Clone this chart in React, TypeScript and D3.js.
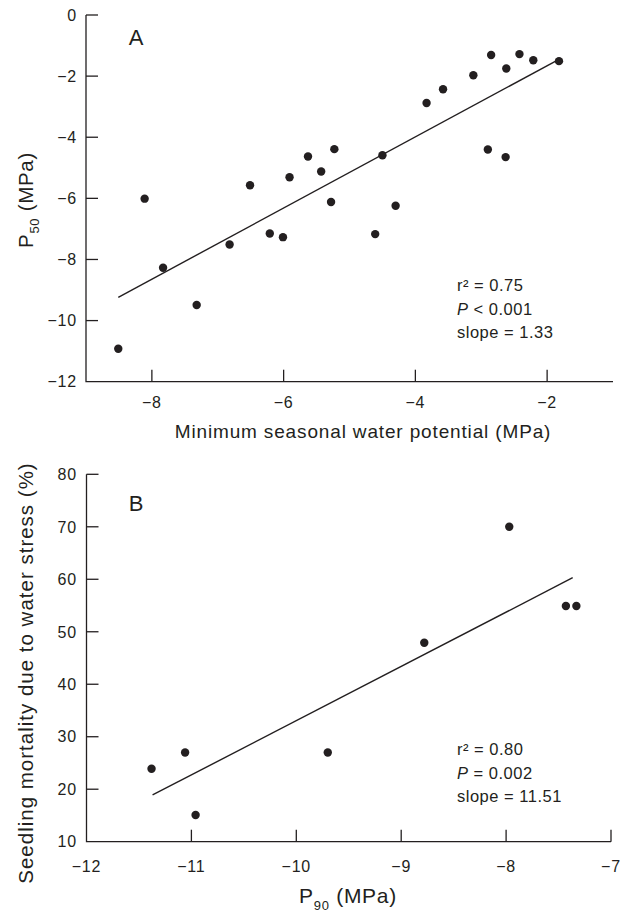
import React from "react";
import * as d3 from "d3";

// Panel A data
const aX = [-8.51, -8.11, -7.83, -7.32, -6.82, -6.51, -6.21, -6.01, -5.91, -5.63, -5.43, -5.28, -5.23, -4.61, -4.5, -4.3, -3.83, -3.58, -3.12, -2.9, -2.85, -2.63, -2.62, -2.42, -2.21, -1.82];
const aY = [-10.92, -6.01, -8.27, -9.49, -7.51, -5.57, -7.15, -7.27, -5.31, -4.63, -5.12, -6.12, -4.39, -7.17, -4.59, -6.24, -2.88, -2.43, -1.97, -4.4, -1.31, -4.65, -1.75, -1.28, -1.48, -1.51];
const aLineX = [-8.51, -1.82];
const aLineY = [-9.24, -1.45];
const aXTicks = [-8, -6, -4, -2];
const aYTicks = [0, -2, -4, -6, -8, -10, -12];
const aStats = ["r² = 0.75", "P< 0.001", "slope = 1.33"];

// Panel B data
const bX = [-11.38, -11.06, -10.96, -9.7, -8.78, -7.97, -7.43, -7.33];
const bY = [23.9, 27.0, 15.1, 27.0, 47.9, 70.0, 54.9, 54.9];
const bLineX = [-11.37, -7.365];
const bLineY = [18.9, 60.3];
const bXTicks = [-12, -11, -10, -9, -8, -7];
const bYTicks = [10, 20, 30, 40, 50, 60, 70, 80];
const bStats = ["r² = 0.80", "P= 0.002", "slope = 11.51"];

const INK = "#231f20";
const FONT = "'Liberation Sans', Arial, Helvetica, sans-serif";
const fmt = (v: number) => (v < 0 ? "\u2212" + Math.abs(v) : String(v));

function Stats({ x, y, lines }: { x: number; y: number; lines: string[] }) {
  return (
    <g fontSize={16.5} fill={INK} letterSpacing={0.5}>
      {lines.map((l, i) => {
        const yy = y + i * 23.5;
        if (l.startsWith("P")) {
          return (
            <text key={i} x={x} y={yy}>
              <tspan fontStyle="italic">P</tspan>
              <tspan>{l.slice(1).replace("=", "\u00a0=").replace("<", "\u00a0<")}</tspan>
            </text>
          );
        }
        return (
          <text key={i} x={x} y={yy}>
            {l.replace(" = ", "\u00a0=\u00a0")}
          </text>
        );
      })}
    </g>
  );
}

export default function App() {
  // Panel A scales
  const xA = d3.scaleLinear().domain([-9, -1]).range([86, 613]);
  const yA = d3.scaleLinear().domain([-12, 0]).range([381.7, 15]);
  // Panel B scales
  const xB = d3.scaleLinear().domain([-12, -7]).range([86.5, 611]);
  const yB = d3.scaleLinear().domain([10, 80]).range([841.7, 474.3]);

  const lineA = d3.line<number>().x((_, i) => xA(aLineX[i])).y((d) => yA(d));
  const lineB = d3.line<number>().x((_, i) => xB(bLineX[i])).y((d) => yB(d));

  const tick = 12;

  return (
    <svg
      width={624}
      height={912}
      style={{ position: "absolute", left: 0, top: 0, background: "#fff" }}
      fontFamily={FONT}
    >
      {/* ---------- Panel A ---------- */}
      <g>
        <path
          d={`M${xA(-9)},${yA(0)}V${yA(-12)}H${xA(-1)}`}
          fill="none"
          stroke={INK}
          strokeWidth={1.3}
        />
        {aYTicks.map((t) => (
          <g key={"ay" + t}>
            {t !== -12 && (
              <line x1={xA(-9)} x2={xA(-9) + tick} y1={yA(t)} y2={yA(t)} stroke={INK} strokeWidth={1.3} />
            )}
            <text x={77} y={yA(t)} dy="0.36em" textAnchor="end" fontSize={16} fill={INK} letterSpacing={0.8}>
              {fmt(t)}
            </text>
          </g>
        ))}
        {aXTicks.map((t) => (
          <g key={"ax" + t}>
            <line x1={xA(t)} x2={xA(t)} y1={yA(-12)} y2={yA(-12) - tick} stroke={INK} strokeWidth={1.3} />
            <text x={xA(t)} y={408} textAnchor="middle" fontSize={16} fill={INK} letterSpacing={0.8}>
              {fmt(t)}
            </text>
          </g>
        ))}
        <text x={136} y={45} textAnchor="middle" fontSize={22} fill={INK}>
          A
        </text>
        <path d={lineA(aLineY) || ""} fill="none" stroke={INK} strokeWidth={1.4} />
        {aX.map((v, i) => (
          <circle key={"pa" + i} cx={xA(v)} cy={yA(aY[i])} r={4.2} fill={INK} />
        ))}
        <Stats x={457} y={291} lines={aStats} />
        <text x={363} y={438} textAnchor="middle" fontSize={19} fill={INK} letterSpacing={0.85}>
          Minimum seasonal water potential (MPa)
        </text>
        <text transform={`translate(33,200) rotate(-90)`} textAnchor="middle" fontSize={20.5} fill={INK} letterSpacing={0.7}>
          P
          <tspan fontSize={13} dy={6}>50</tspan>
          <tspan dy={-6}> (MPa)</tspan>
        </text>
      </g>

      {/* ---------- Panel B ---------- */}
      <g>
        <path
          d={`M${xB(-12)},${yB(80)}V${yB(10)}H${xB(-7)}`}
          fill="none"
          stroke={INK}
          strokeWidth={1.3}
        />
        {bYTicks.map((t) => (
          <g key={"by" + t}>
            {t !== 10 && (
              <line x1={xB(-12)} x2={xB(-12) + tick} y1={yB(t)} y2={yB(t)} stroke={INK} strokeWidth={1.3} />
            )}
            <text x={77} y={yB(t)} dy="0.36em" textAnchor="end" fontSize={16} fill={INK} letterSpacing={0.8}>
              {fmt(t)}
            </text>
          </g>
        ))}
        {bXTicks.map((t) => (
          <g key={"bx" + t}>
            {t !== -12 && (
              <line x1={xB(t)} x2={xB(t)} y1={yB(10)} y2={yB(10) - tick} stroke={INK} strokeWidth={1.3} />
            )}
            <text x={xB(t)} y={872} textAnchor="middle" fontSize={16} fill={INK} letterSpacing={0.8}>
              {fmt(t)}
            </text>
          </g>
        ))}
        <text x={136} y={511} textAnchor="middle" fontSize={22} fill={INK}>
          B
        </text>
        <path d={lineB(bLineY) || ""} fill="none" stroke={INK} strokeWidth={1.4} />
        {bX.map((v, i) => (
          <circle key={"pb" + i} cx={xB(v)} cy={yB(bY[i])} r={4.2} fill={INK} />
        ))}
        <Stats x={457} y={755} lines={bStats} />
        <text x={348} y={903} textAnchor="middle" fontSize={21} fill={INK} letterSpacing={0.7}>
          P
          <tspan fontSize={13} dy={7}>90</tspan>
          <tspan dy={-7}> (MPa)</tspan>
        </text>
        <text transform={`translate(33,673) rotate(-90)`} textAnchor="middle" fontSize={20.5} fill={INK} letterSpacing={1.0}>
          Seedling mortality due to water stress (%)
        </text>
      </g>
    </svg>
  );
}
